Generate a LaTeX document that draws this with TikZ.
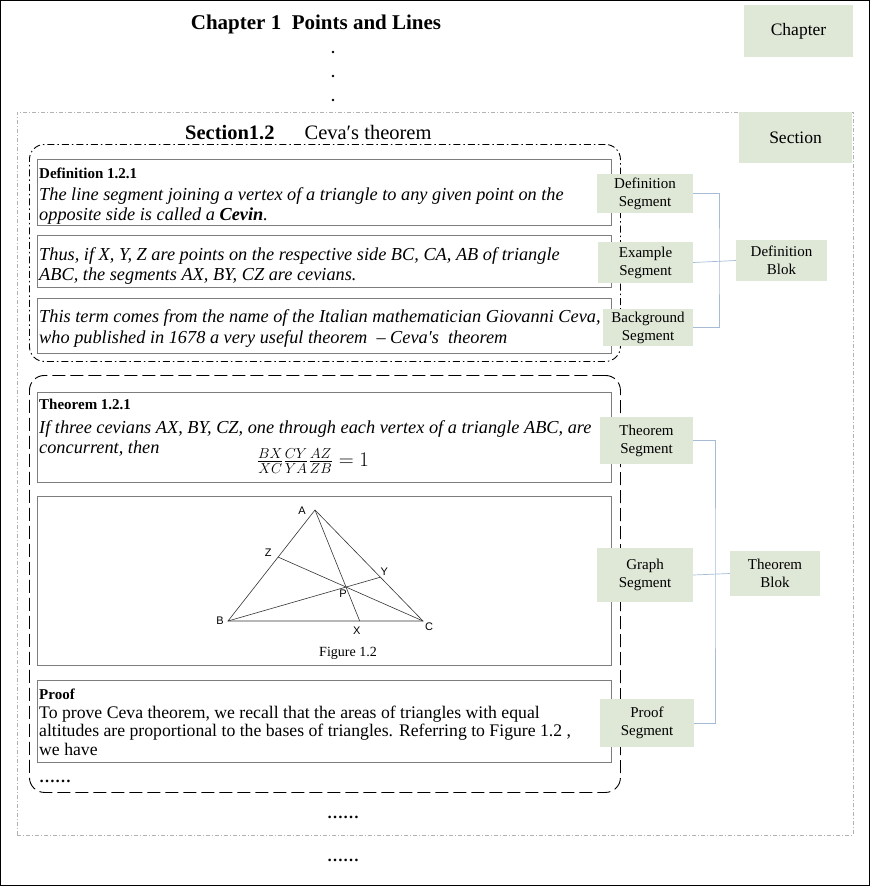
\documentclass[tikz,border=0pt]{standalone}
\usepackage{fontspec}
\setmainfont{Liberation Serif}
\newfontfamily\ptfont{Liberation Sans}
\usetikzlibrary{positioning}

\definecolor{labgreen}{RGB}{223,231,215}
\definecolor{connblue}{RGB}{165,188,212}
\definecolor{secgray}{RGB}{178,178,178}
\definecolor{boxgray}{RGB}{125,125,125}

\tikzset{
  lab/.style={fill=labgreen, inner sep=0pt, align=center, font=\fontsize{15}{18}\selectfont},
  conn/.style={draw=connblue, line width=0.7pt},
  segbox/.style={draw=boxgray, line width=0.8pt, inner sep=0pt, anchor=north west},
  secbox/.style={draw=secgray, line width=0.7pt, inner sep=0pt, anchor=north west,
    dash pattern=on 4pt off 2pt on 1pt off 2pt},
  defblk/.style={draw=black, line width=0.9pt, inner sep=0pt, anchor=north west,
    rounded corners=15pt, dash pattern=on 7pt off 3pt on 1.5pt off 3pt},
  thmblk/.style={draw=black, line width=0.9pt, inner sep=0pt, anchor=north west,
    rounded corners=15pt, dash pattern=on 13pt off 5pt},
  body/.style={anchor=base west, inner sep=0pt, align=left, font=\fontsize{18.3}{20}\selectfont\itshape},
  head/.style={anchor=base west, inner sep=0pt, font=\fontsize{15}{18}\selectfont\bfseries},
  tri/.style={draw=black!80, line width=0.6pt},
  ptlab/.style={inner sep=0pt, font=\ptfont\fontsize{11}{12}\selectfont},
}

\begin{document}
\begin{tikzpicture}[x=1pt,y=-1pt]
  \useasboundingbox (0,0) rectangle (870,886);
  \draw[line width=1.3pt] (0.65,0.65) rectangle (869.35,885.35);

  % chapter
  \node[anchor=base, inner sep=0pt, font=\fontsize{21}{24}\selectfont\bfseries] (chaptitle) at (316,29) {Chapter 1\enspace Points and Lines};
  \foreach \y/\n in {52/1,76/2,100/3}
    \node[circle, fill=black, inner sep=0pt, minimum size=2.6pt] (dot\n) at (333,\y) {};
  \node[lab, font=\fontsize{17.5}{20}\selectfont, minimum width=109pt, minimum height=52pt] (chaplab) at (798.5,31) {Chapter};

  % section
  \node[secbox, minimum width=836pt, minimum height=723pt] (section) at (17,112) {};
  \node[anchor=base west, inner sep=0pt, font=\fontsize{20.5}{24}\selectfont] (sectitle) at (185,139) {\textbf{Section1.2}\hspace{30pt}Ceva′s theorem};

  % definition block
  \node[defblk, minimum width=591pt, minimum height=217pt] (defblock) at (29,144) {};
  \node[segbox, minimum width=574pt, minimum height=66pt] (defseg) at (37,159) {};
  \node[head] (defhead) at (39,178) {Definition 1.2.1};
  \node[body] (deftext) at (39,220) {The line segment joining a vertex of a triangle to any given point on the\\opposite side is called a \textbf{Cevin}.};
  \node[segbox, minimum width=574pt, minimum height=52pt] (exseg) at (37,235) {};
  \node[body] (extext) at (39,280) {Thus, if X, Y, Z are points on the respective side BC, CA, AB of triangle\\ABC, the segments AX, BY, CZ are cevians.};
  \node[segbox, minimum width=574pt, minimum height=55pt] (bgseg) at (37,298) {};
  \node[body, font=\fontsize{18.3}{21}\selectfont\itshape] (bgtext) at (39,343) {This term comes from the name of the Italian mathematician Giovanni Ceva,\\who published in 1678 a very useful theorem\ \ –\ Ceva′s\ \ theorem};

  % theorem block
  \node[thmblk, minimum width=591pt, minimum height=417pt] (thmblock) at (29,375) {};
  \node[segbox, minimum width=574pt, minimum height=90pt] (thmseg) at (37,392) {};
  \node[head] (thmhead) at (39,409) {Theorem 1.2.1};
  \node[body] (thmtext) at (39,453) {If three cevians AX, BY, CZ, one through each vertex of a triangle ABC, are\\concurrent, then};
  \node[inner sep=0pt, font=\fontsize{19.5}{22}\selectfont] (cevaeq) at (313,461) {$\frac{BX}{XC}\frac{CY}{YA}\frac{AZ}{ZB}=1$};

  \node[segbox, minimum width=574pt, minimum height=169pt] (graphseg) at (37,496) {};
  \coordinate (A) at (315,510);
  \coordinate (B) at (228,621);
  \coordinate (C) at (423,621);
  \coordinate (P) at (346,587);
  \coordinate (X) at (intersection of A--P and B--C);
  \coordinate (Y) at (intersection of B--P and A--C);
  \coordinate (Z) at (intersection of C--P and A--B);
  \draw[tri] (A) -- (B) -- (C) -- cycle;
  \draw[tri] (A) -- (X);
  \draw[tri] (B) -- (Y);
  \draw[tri] (C) -- (Z);
  \node[ptlab] (labA) at ([shift={(-13,1)}]A) {A};
  \node[ptlab] (labB) at ([shift={(-8,0)}]B) {B};
  \node[ptlab] (labC) at ([shift={(6,6)}]C) {C};
  \node[ptlab] (labX) at ([shift={(-3,10)}]X) {X};
  \node[ptlab] (labY) at ([shift={(4,-5)}]Y) {Y};
  \node[ptlab] (labZ) at ([shift={(-10,-4)}]Z) {Z};
  \node[ptlab] (labP) at ([shift={(-3,7)}]P) {P};
  \node[inner sep=0pt, font=\fontsize{14}{16}\selectfont] (figcap) at (348,653) {Figure 1.2};

  \node[segbox, minimum width=574pt, minimum height=82pt] (proofseg) at (37,680) {};
  \node[head] (proofhead) at (39,699) {Proof};
  \node[body, font=\fontsize{17.7}{18.5}\selectfont] (prooftext) at (39,755) {To prove Ceva theorem, we recall that the areas of triangles with equal\\altitudes are proportional to the bases of triangles. Referring to Figure 1.2 ,\\we have};
  \node[anchor=base west, inner sep=0pt, font=\fontsize{16}{18}\selectfont\bfseries] (proofdots) at (39,782) {……};

  \node[inner sep=0pt, font=\fontsize{16}{18}\selectfont\bfseries] (secdots) at (343,817) {……};
  \node[inner sep=0pt, font=\fontsize{16}{18}\selectfont\bfseries] (chapdots) at (343,860) {……};

  % labels
  \node[lab, font=\fontsize{17.5}{20}\selectfont, minimum width=113pt, minimum height=51pt] (seclab) at (795.5,137.5) {Section};
  \node[lab, minimum width=96pt, minimum height=39pt] (defseglab) at (645,193.5) {Definition\\Segment};
  \node[lab, minimum width=95pt, minimum height=41pt] (exseglab) at (645.5,262.5) {Example\\Segment};
  \node[lab, minimum width=90pt, minimum height=37pt] (bgseglab) at (648,327.5) {Background\\Segment};
  \node[lab, minimum width=91pt, minimum height=41pt] (defblok) at (781.5,260.5) {Definition\\Blok};
  \node[lab, minimum width=93pt, minimum height=47pt] (thmseglab) at (646.5,440.5) {Theorem\\Segment};
  \node[lab, minimum width=96pt, minimum height=54pt] (graphseglab) at (645,575) {Graph\\Segment};
  \node[lab, minimum width=94pt, minimum height=48pt] (proofseglab) at (647,723) {Proof\\Segment};
  \node[lab, minimum width=90pt, minimum height=45pt] (thmblok) at (775,573.5) {Theorem\\Blok};

  % connectors
  \coordinate (defbus) at (719,262.5);
  \draw[conn] (defseglab.east) -| (defbus) |- (bgseglab.east);
  \draw[conn] (exseglab.east) -- (defblok.west);
  \coordinate (thmbus) at (715,575);
  \draw[conn] (thmseglab.east) -| (thmbus) |- (proofseglab.east);
  \draw[conn] (graphseglab.east) -- (thmblok.west);
\end{tikzpicture}
\end{document}
